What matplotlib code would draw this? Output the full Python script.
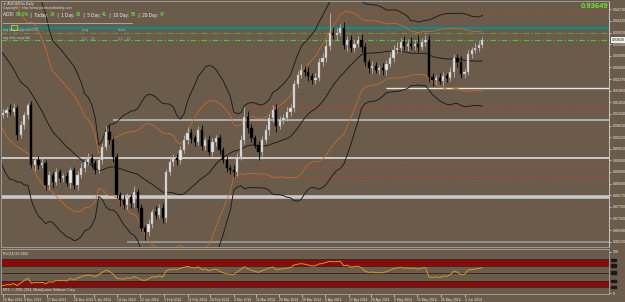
import numpy as np
import pandas as pd
import matplotlib
matplotlib.use('Agg')
import matplotlib.pyplot as plt
from matplotlib.patches import Rectangle

plt.rcParams['font.family'] = ['Liberation Sans', 'DejaVu Sans']

# daily closes before the first visible bar (needed for bands / RSI)
warmup_close = [0.9455, 0.9440, 0.9480, 0.9500, 0.9530, 0.9470, 0.9330, 0.9340, 0.9300, 0.9340,
                0.9360, 0.9360, 0.9380, 0.9370, 0.9300, 0.9170, 0.9160, 0.9140, 0.9140, 0.9100]

# visible daily closes, 29 Nov 2013 .. 10 Jun 2014
close = [0.9107, 0.9118, 0.9111, 0.9125, 0.9030, 0.9065, 0.9100, 0.9135, 0.8924, 0.8941,
         0.8924, 0.8931, 0.8853, 0.8888, 0.8864, 0.8899, 0.8878, 0.8885, 0.8860, 0.8906,
         0.8853, 0.8888, 0.8913, 0.8934, 0.8948, 0.8931, 0.8906, 0.8941, 0.8987, 0.9040,
         0.9012, 0.8952, 0.8818, 0.8800, 0.8782, 0.8811, 0.8790, 0.8828, 0.8772, 0.8701,
         0.8687, 0.8715, 0.8758, 0.8747, 0.8772, 0.8737, 0.8899, 0.8934, 0.8948, 0.8941,
         0.8977, 0.9012, 0.9037, 0.9019, 0.9005, 0.9047, 0.8991, 0.9012, 0.8970, 0.9005,
         0.9019, 0.8977, 0.8941, 0.8913, 0.8906, 0.8899, 0.8952, 0.9012, 0.9093, 0.9054,
         0.9019, 0.8994, 0.8970, 0.9012, 0.9047, 0.9090, 0.9118, 0.9061, 0.9083, 0.9090,
         0.9111, 0.9125, 0.9210, 0.9241, 0.9259, 0.9252, 0.9238, 0.9224, 0.9231, 0.9287,
         0.9301, 0.9344, 0.9390, 0.9383, 0.9390, 0.9407, 0.9347, 0.9365, 0.9337, 0.9351,
         0.9365, 0.9340, 0.9287, 0.9266, 0.9273, 0.9259, 0.9266, 0.9259, 0.9280, 0.9301,
         0.9330, 0.9337, 0.9358, 0.9344, 0.9351, 0.9344, 0.9351, 0.9340, 0.9358, 0.9365,
         0.9234, 0.9224, 0.9231, 0.9220, 0.9238, 0.9231, 0.9252, 0.9301, 0.9287, 0.9245,
         0.9252, 0.9316, 0.9330, 0.9337, 0.9347, 0.93649]

# upper / lower shadows in pips
wick_up = [15, 12, 20, 18, 10, 14, 12, 8, 15, 12, 14, 18, 10, 16, 12, 14, 10, 12, 15, 10,
           12, 14, 16, 10, 18, 15, 12, 10, 14, 20, 25, 12, 15, 10, 18, 14, 12, 22, 12, 15,
           10, 18, 12, 20, 15, 16, 12, 22, 16, 14, 12, 18, 20, 15, 12, 14, 18, 12, 16, 14,
           12, 15, 10, 14, 12, 16, 14, 18, 35, 20, 14, 12, 16, 15, 18, 12, 16, 22, 14, 12,
           16, 14, 12, 16, 20, 14, 18, 12, 16, 14, 18, 20, 70, 22, 16, 14, 20, 15, 18, 16,
           14, 20, 16, 12, 18, 14, 12, 16, 14, 18, 16, 22, 14, 20, 16, 24, 15, 30, 14, 16,
           18, 14, 12, 16, 14, 12, 18, 16, 14, 20, 12, 14, 10, 16, 14, 10]
wick_dn = [12, 15, 10, 14, 18, 12, 16, 14, 12, 20, 15, 12, 18, 14, 20, 12, 16, 14, 12, 18,
           14, 16, 12, 15, 12, 18, 14, 12, 15, 12, 14, 16, 12, 20, 15, 12, 18, 14, 16, 12,
           27, 14, 12, 15, 12, 18, 16, 12, 14, 16, 14, 12, 15, 18, 14, 12, 16, 14, 12, 15,
           16, 14, 12, 15, 14, 18, 14, 12, 15, 16, 14, 12, 30, 15, 12, 16, 14, 20, 12, 14,
           12, 15, 16, 14, 12, 15, 18, 14, 16, 12, 14, 12, 16, 14, 18, 12, 14, 20, 16, 14,
           12, 16, 14, 18, 16, 12, 14, 18, 16, 12, 14, 12, 16, 14, 18, 12, 14, 16, 12, 14,
           16, 20, 14, 12, 18, 14, 12, 16, 18, 14, 16, 12, 14, 12, 10, 12]

date_labels = ['29 Nov 2013', '9 Dec 2013', '17 Dec 2013', '26 Dec 2013', '3 Jan 2014',
               '14 Jan 2014', '22 Jan 2014', '3 Feb 2014', '11 Feb 2014', '20 Feb 2014',
               '3 Mar 2014', '11 Mar 2014', '20 Mar 2014', '28 Mar 2014', '8 Apr 2014',
               '17 Apr 2014', '28 Apr 2014', '6 May 2014', '15 May 2014', '26 May 2014',
               '3 Jun 2014']
date_idx = [0, 6, 12.4, 20, 25.7, 32, 38.6, 45.4, 52, 58.3, 65, 71.3, 77.7, 84.2, 90.7,
            97.5, 103.7, 110, 116.6, 123.4, 130]

price_ticks = [0.9473, 0.9432, 0.9391, 0.9350, 0.9309, 0.9268, 0.9227, 0.9186, 0.9145,
               0.9104, 0.9063, 0.9022, 0.8981, 0.8940, 0.8899, 0.8858, 0.8817, 0.8776,
               0.8735, 0.8694, 0.8653]

# horizontal levels: (price, first bar, colour, width, style)
levels = [
    (0.94073, -1, '#0a8c8c', 1.6, '-'),
    (0.93896, -1, '#5f9a3c', 0.8, (0, (5, 2, 1, 2))),
    (0.93649, -1, '#3ccc3c', 0.8, (0, (5, 2, 1, 2))),
    (0.94602, 92, '#c83a2a', 0.7, (0, (1, 1.2))),
    (0.91955, 108, '#e6e6e6', 1.0, '-'),
    (0.91284, 69, '#c83a2a', 0.7, (0, (1, 1.2))),
    (0.90825, 31, '#a8a8a8', 1.5, '-'),
    (0.89484, -1, '#e8e8e8', 1.1, '-'),
    (0.89166, 72, '#d03a2a', 0.7, (0, (1, 1.2))),
    (0.88813, 65, '#d03a2a', 0.7, (0, (1, 1.2))),
    (0.88107, -1, '#c8c8c8', 2.6, '-'),
    (0.86518, 35, '#a0a0a0', 1.1, '-'),
]

bg = '#6b5b4b'
W, H = 625, 302
x_lo, x_hi = -0.56, 170.7


def fx(px):
    return px / W


def fy(py):
    return 1 - py / H


s = pd.Series(warmup_close + close)
mid = s.rolling(20).mean()
sd = s.rolling(20).std(ddof=0)
delta = s.diff()
gain = delta.clip(lower=0).ewm(alpha=1 / 14, adjust=False).mean()
loss = (-delta.clip(upper=0)).ewm(alpha=1 / 14, adjust=False).mean()
rsi = 100 - 100 / (1 + gain / loss)

n0 = len(warmup_close)
xs_all = np.arange(len(s)) - n0
x = np.arange(len(close))
c = np.array(close)
o = np.array(s.shift(1))[n0:]
hi = np.maximum(o, c) + np.array(wick_up) * 0.0001
lo = np.minimum(o, c) - np.array(wick_dn) * 0.0001

fig = plt.figure(figsize=(6.25, 3.02), dpi=100)
fig.patch.set_facecolor(bg)

ax = fig.add_axes([fx(1), fy(247), fx(609) - fx(1), fy(1) - fy(247)])
ax.set_facecolor(bg)
ax.set_xlim(x_lo, x_hi)
ax.set_ylim(0.863419, 0.950257)

for p, start, col, lw, ls in levels:
    ax.hlines(p, max(start, x_lo), x_hi, colors=col, lw=lw, linestyles=ls, zorder=1)

# bollinger bands 20/2 (orange) and 20/3 (black)
ax.plot(xs_all, mid + 2 * sd, color='#c66a2c', lw=0.6, zorder=2)
ax.plot(xs_all, mid - 2 * sd, color='#c66a2c', lw=0.6, zorder=2)
ax.plot(xs_all, mid, color='#1e1a16', lw=0.65, zorder=2)
ax.plot(xs_all, mid + 3 * sd, color='#1e1a16', lw=0.65, zorder=2)
ax.plot(xs_all, mid - 3 * sd, color='#1e1a16', lw=0.65, zorder=2)

up = c >= o
ax.vlines(x[up], lo[up], hi[up], colors='#b4b4b4', lw=0.6, zorder=3)
ax.vlines(x[~up], lo[~up], hi[~up], colors='#000000', lw=0.6, zorder=3)
body = np.maximum(np.abs(c - o), 0.00015)
ax.bar(x[up], body[up], bottom=np.minimum(o, c)[up], width=0.62,
       color='#e4e4e4', edgecolor='#9a9a9a', lw=0.3, zorder=4)
ax.bar(x[~up], body[~up], bottom=np.minimum(o, c)[~up], width=0.62,
       color='#000000', edgecolor='#000000', lw=0.3, zorder=4)

ax.yaxis.tick_right()
ax.set_yticks(price_ticks)
ax.set_yticklabels(['%.5f' % v for v in price_ticks])
ax.tick_params(axis='y', labelsize=2.6, colors='#e8e8e8', length=1.5, width=0.5, pad=1)
ax.set_xticks([])
for sp in ax.spines.values():
    sp.set_color('#9a9a9a')
    sp.set_linewidth(0.7)
ax.spines['right'].set_color('#c8c8c8')
ax.annotate('0.93649', xy=(1.004, 0.93649), xycoords=('axes fraction', 'data'),
            fontsize=2.6, color='#202020', va='center', ha='left',
            bbox=dict(boxstyle='square,pad=0.25', fc='#f0f0f0', ec='none'))

# RSI sub window
ra = fig.add_axes([fx(1), fy(294), fx(609) - fx(1), fy(249) - fy(294)])
ra.set_facecolor(bg)
ra.set_xlim(x_lo, x_hi)
ra.set_ylim(-2.4, 107.3)
ra.axhspan(67, 81, color='#8b0a0a', lw=0)
ra.axhspan(15, 29, color='#8b0a0a', lw=0)
for lv in [83, 67, 50, 29, 15]:
    ra.axhline(lv, color='#2a2622', lw=0.6)
ra.plot(xs_all, rsi, color='#d8952a', lw=0.7)
ra.set_yticks([100, 0])
ra.set_yticklabels(['100', '0'])
ra.yaxis.tick_right()
ra.tick_params(axis='y', labelsize=2.6, colors='#e8e8e8', length=1.5, width=0.5, pad=1)
for lv in [81, 67, 50, 29, 15]:
    ra.add_patch(Rectangle((1.003, lv - 3), 0.008, 6, transform=ra.get_yaxis_transform(),
                           color='#1a1a1a', clip_on=False))
ra.set_xticks(date_idx)
ra.set_xticklabels(date_labels)
ra.tick_params(axis='x', labelsize=2.4, colors='#e8e8e8', length=2, width=0.5, pad=1)
for t in ra.get_xticklabels():
    t.set_ha('left')
for sp in ra.spines.values():
    sp.set_color('#9a9a9a')
    sp.set_linewidth(0.7)
ra.text(0.004, 0.93, 'RSI(14) 69.2404', transform=ra.transAxes, fontsize=2.4,
        color='#e8e8e8', va='top')
ra.text(0.004, 0.1, 'MT4, \u00a9 2001-2014, MetaQuotes Software Corp.', transform=ra.transAxes,
        fontsize=2.4, color='#e8e8e8', va='center')

# header texts
fig.text(fx(3), fy(3.5), '\u25bc AUDUSDm,Daily', fontsize=2.5, color='#e8e8e8', va='center')
fig.text(fx(3), fy(8), 'Copyright \u00a9 http://www.pointsandtrading.com', fontsize=2.4,
         color='#d8d8d8', va='center')

renderer = fig.canvas.get_renderer()
adr_parts = [('ADR: ', '#f0f0f0'), ('89.6%', '#5cff3c'), ('  |  Today: ', '#f0f0f0'), ('34', '#5cff3c'),
             ('  |  1 Day: ', '#f0f0f0'), ('29', '#5cff3c'), ('  |  5 Day: ', '#f0f0f0'), ('41', '#5cff3c'),
             ('  |  10 Day: ', '#f0f0f0'), ('58', '#5cff3c'), ('  |  20 Day: ', '#f0f0f0'), ('47', '#5cff3c')]
px = 3
for txt, col in adr_parts:
    t = fig.text(fx(px), fy(15), txt, fontsize=3.3, color=col, va='center')
    px += t.get_window_extent(renderer=renderer).width

fig.add_artist(plt.Line2D([fx(3), fx(132)], [fy(23), fy(23)], color='#a8a8a8', lw=0.7))
fig.text(fx(3), fy(30), 'avg daily range ask 0.93', fontsize=2.3, color='#c8c8c8', va='center')
fig.text(fx(82), fy(30), 'Long', fontsize=2.3, color='#a8b0b8', va='center')
fig.text(fx(118), fy(30), 'Short', fontsize=2.3, color='#a8b0b8', va='center')
fig.text(fx(3), fy(38.5), 'avg daily range bid', fontsize=2.3, color='#c8c8c8', va='center')
fig.text(fx(82), fy(38.5), '0.9 ... 50', fontsize=2.3, color='#a8b0b8', va='center')
fig.text(fx(118), fy(38.5), '0.9 ... 49', fontsize=2.3, color='#a8b0b8', va='center')
fig.add_artist(Rectangle((fx(11), fy(30)), fx(6), 5 / H, fill=False, ec='#e8c800', lw=0.6))

fig.text(fx(608), fy(6), '0.93649', fontsize=5.5, color='#6ee632', ha='right', va='center',
         weight='bold')

fig.savefig('out.png', dpi=100, facecolor=bg)
